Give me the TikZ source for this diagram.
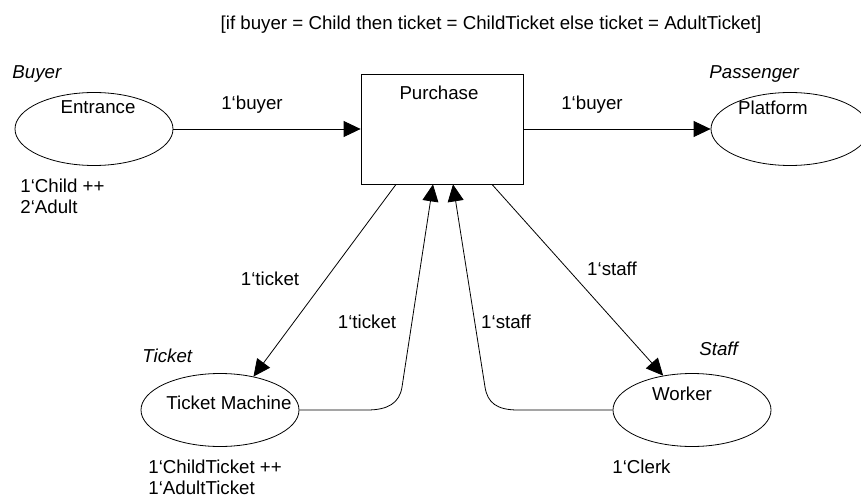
\documentclass[tikz,border=0pt]{standalone}
\usepackage{fontspec}
\setmainfont{Liberation Sans}
\usetikzlibrary{arrows.meta,shapes.geometric}
\begin{document}
\begin{tikzpicture}[x=1pt,y=-1pt,
  line width=0.8pt,
  every node/.style={font=\fontsize{18.7}{21}\selectfont,inner sep=0pt},
  place/.style={draw,ellipse,minimum width=158pt,minimum height=73pt},
  trans/.style={draw,rectangle,minimum width=162pt,minimum height=110pt},
  txt/.style={anchor=base},
  txtw/.style={anchor=base west},
  typ/.style={anchor=base west,font=\fontsize{18.7}{21}\selectfont\itshape},
  arc/.style={-{Triangle[length=17pt,width=16pt]},line width=0.8pt},
]
\clip (0,0) rectangle (861,497);

% guard of the transition
\node[txt] (guard) at (491,30) {[if buyer = Child then ticket = ChildTicket else ticket = AdultTicket]};

% places
\node[place] (entrance) at (94,129) {};
\node[place] (platform) at (790,129) {};
\node[place] (tmachine) at (220,410) {};
\node[place] (worker)   at (692,410) {};

% transition
\node[trans] (purchase) at (442,129) {};

% names of places and transition
\node[txt] (entrance-name) at (98,114) {Entrance};
\node[txt] (platform-name) at (773,115) {Platform};
\node[txt] (tmachine-name) at (229,409) {Ticket Machine};
\node[txt] (worker-name)   at (682,400) {Worker};
\node[txt] (purchase-name) at (439,100) {Purchase};

% colour sets
\node[typ] (buyer-type)     at (12,79)  {Buyer};
\node[typ] (passenger-type) at (709,79) {Passenger};
\node[typ] (ticket-type)    at (142,362) {Ticket};
\node[typ] (staff-type)     at (699,355) {Staff};

% initial markings, one line per node
\node[txtw] (entrance-init-a) at (20,192) {1‘Child ++};
\node[txtw] (entrance-init-b) at (20,213) {2‘Adult};
\node[txtw] (tmachine-init-a) at (148,473) {1‘ChildTicket ++};
\node[txtw] (tmachine-init-b) at (148,494) {1‘AdultTicket};
\node[txtw] (worker-init)     at (612,473) {1‘Clerk};

% bend points of the returning arcs
\coordinate (tbend) at (402,387);
\coordinate (sbend) at (485,387);

% arcs
\draw[arc] (entrance) -- (purchase);
\draw[arc] (purchase) -- (platform);
\draw[arc] ([xshift=-46pt]purchase.south) -- (tmachine.45);
\draw[arc] ([xshift=50pt]purchase.south) -- (worker.130);
\draw[arc] (tmachine.east) -- (367,410) .. controls (388,410) and (399.5,403) .. (tbend)
  -- ([xshift=-9pt]purchase.south);
\draw[arc] (worker.west) -- (518,410) .. controls (497,410) and (487.5,403) .. (sbend)
  -- ([xshift=11pt]purchase.south);

% arc inscriptions
\node[txt] (in-buyer)   at (252,110) {1‘buyer};
\node[txt] (out-buyer)  at (592,110) {1‘buyer};
\node[txt] (out-ticket) at (270,285) {1‘ticket};
\node[txt] (out-staff)  at (612,275) {1‘staff};
\node[txt] (in-ticket)  at (367,328) {1‘ticket};
\node[txt] (in-staff)   at (506,328) {1‘staff};
\end{tikzpicture}
\end{document}
